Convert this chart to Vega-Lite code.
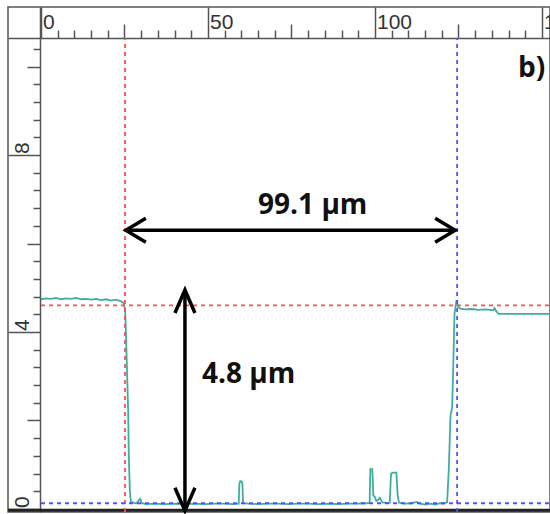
{
  "$schema": "https://vega.github.io/schema/vega-lite/v6.json",
  "width": 542,
  "height": 505,
  "autosize": {"type": "none"},
  "padding": {"left": 8, "top": 7, "right": 0, "bottom": 2},
  "background": "white",
  "config": {
    "view": {"stroke": "#555", "strokeWidth": 1.5},
    "axis": {"grid": false, "title": null, "labelOverlap": false, "labelFlush": false, "labelBound": false,
             "domainColor": "#555", "domainWidth": 1.5, "tickColor": "#555", "tickWidth": 1.5,
             "labelFont": "Liberation Sans Narrow, Liberation Sans, sans-serif", "labelFontSize": 21, "labelColor": "#333"}
  },
  "datasets": {
    "profile": [
      {"x": 0, "y": 4.74}, {"x": 1.5, "y": 4.76}, {"x": 3, "y": 4.75}, {"x": 4.5, "y": 4.77}, {"x": 6, "y": 4.74},
      {"x": 7.5, "y": 4.76}, {"x": 9, "y": 4.75}, {"x": 10.5, "y": 4.77}, {"x": 12, "y": 4.74}, {"x": 13.5, "y": 4.75},
      {"x": 15, "y": 4.73}, {"x": 16.5, "y": 4.75}, {"x": 18, "y": 4.72}, {"x": 19.5, "y": 4.74}, {"x": 21, "y": 4.71},
      {"x": 22.5, "y": 4.73}, {"x": 23.8, "y": 4.70}, {"x": 24.7, "y": 4.66}, {"x": 25.2, "y": 4.5}, {"x": 25.5, "y": 3.8},
      {"x": 25.8, "y": 3.0}, {"x": 26.1, "y": 2.2}, {"x": 26.3, "y": 1.2}, {"x": 26.6, "y": 0.4}, {"x": 26.9, "y": 0.16},
      {"x": 27.8, "y": 0.14}, {"x": 28.6, "y": 0.13}, {"x": 29.2, "y": 0.19}, {"x": 29.7, "y": 0.23}, {"x": 30.2, "y": 0.13},
      {"x": 31.5, "y": 0.11}, {"x": 34, "y": 0.12}, {"x": 37, "y": 0.11}, {"x": 40, "y": 0.12}, {"x": 43, "y": 0.11},
      {"x": 46, "y": 0.12}, {"x": 49, "y": 0.11}, {"x": 52, "y": 0.12}, {"x": 55, "y": 0.12}, {"x": 57.5, "y": 0.11},
      {"x": 59.2, "y": 0.12}, {"x": 59.4, "y": 0.58}, {"x": 59.7, "y": 0.63}, {"x": 60.1, "y": 0.62}, {"x": 60.3, "y": 0.56},
      {"x": 60.5, "y": 0.13}, {"x": 62, "y": 0.12}, {"x": 65, "y": 0.11}, {"x": 68, "y": 0.12}, {"x": 71, "y": 0.12},
      {"x": 74, "y": 0.11}, {"x": 77, "y": 0.12}, {"x": 80, "y": 0.12}, {"x": 83, "y": 0.11}, {"x": 86, "y": 0.12},
      {"x": 89, "y": 0.11}, {"x": 92, "y": 0.12}, {"x": 95, "y": 0.12}, {"x": 97.5, "y": 0.13}, {"x": 98.4, "y": 0.14},
      {"x": 98.6, "y": 0.9}, {"x": 99.2, "y": 0.9}, {"x": 99.5, "y": 0.3}, {"x": 99.9, "y": 0.28}, {"x": 100.4, "y": 0.18},
      {"x": 100.9, "y": 0.2}, {"x": 101.5, "y": 0.25}, {"x": 102.2, "y": 0.15}, {"x": 103.5, "y": 0.14}, {"x": 104.4, "y": 0.14},
      {"x": 104.8, "y": 0.8}, {"x": 105.4, "y": 0.82}, {"x": 106.4, "y": 0.82}, {"x": 106.8, "y": 0.3}, {"x": 107.2, "y": 0.14},
      {"x": 109, "y": 0.12}, {"x": 111, "y": 0.13}, {"x": 112.5, "y": 0.16}, {"x": 113.5, "y": 0.12}, {"x": 115, "y": 0.1},
      {"x": 116.5, "y": 0.12}, {"x": 118, "y": 0.1}, {"x": 119.5, "y": 0.13}, {"x": 120.5, "y": 0.12}, {"x": 121.6, "y": 0.15},
      {"x": 122.1, "y": 0.9}, {"x": 122.6, "y": 2.1}, {"x": 123.1, "y": 2.3}, {"x": 123.4, "y": 3.1}, {"x": 123.8, "y": 4.4},
      {"x": 124.4, "y": 4.72}, {"x": 124.9, "y": 4.57}, {"x": 125.5, "y": 4.53}, {"x": 127, "y": 4.51}, {"x": 129, "y": 4.52},
      {"x": 131, "y": 4.5}, {"x": 133, "y": 4.51}, {"x": 134.5, "y": 4.5}, {"x": 135.4, "y": 4.49}, {"x": 135.8, "y": 4.54},
      {"x": 136.3, "y": 4.47}, {"x": 137, "y": 4.41}, {"x": 140, "y": 4.41}, {"x": 144, "y": 4.41}, {"x": 148, "y": 4.41},
      {"x": 152.4, "y": 4.41}
    ],
    "guides": [
      {"kind": "start", "x": 25.15, "x2": 25.15, "y": -0.068, "y2": 10.64},
      {"kind": "end", "x": 124.6, "x2": 124.6, "y": -0.068, "y2": 10.64},
      {"kind": "start", "x": 0, "x2": 152.4, "y": 4.6, "y2": 4.6},
      {"kind": "end", "x": 0, "x2": 152.4, "y": 0.13, "y2": 0.13}
    ],
    "frame": [
      {"x": -9.88, "x2": 152.4, "y": -0.03, "y2": -0.03}
    ],
    "shafts": [
      {"x": 25.6, "x2": 123.8, "y": 6.3, "y2": 6.3},
      {"x": 43.1, "x2": 43.1, "y": 0.0, "y2": 4.9}
    ],
    "heads": [
      {"dir": "left", "x": 25.4, "y": 6.3},
      {"dir": "right", "x": 124.0, "y": 6.3},
      {"dir": "up", "x": 43.1, "y": 4.95},
      {"dir": "down", "x": 43.1, "y": -0.04}
    ],
    "labels": [
      {"text": "99.1 µm", "x": 65.0, "y": 6.67},
      {"text": "4.8 µm", "x": 48.2, "y": 2.85},
      {"text": "b)", "x": 142.8, "y": 9.76}
    ]
  },
  "encoding": {
    "x": {
      "field": "x", "type": "quantitative",
      "scale": {"domain": [-9.88, 152.4], "nice": false, "zero": false},
      "axis": {
        "orient": "top", "offset": -31,
        "values": [0, 5, 10, 15, 20, 25, 30, 35, 40, 45, 50, 55, 60, 65, 70, 75, 80, 85, 90, 95, 100, 105, 110, 115, 120, 125, 130, 135, 140, 145, 150],
        "tickSize": {"condition": [{"test": "datum.value % 50 === 0", "value": 31}, {"test": "datum.value % 25 === 0", "value": 14}], "value": 8},
        "labelExpr": "datum.value % 50 === 0 ? datum.label : ''",
        "labelAlign": "left", "labelBaseline": "alphabetic", "labelPadding": -21.5, "labelOffset": 1.5
      }
    },
    "y": {
      "field": "y", "type": "quantitative",
      "scale": {"domain": [-0.068, 11.345], "nice": false, "zero": false},
      "axis": {
        "orient": "left", "offset": -32,
        "values": [0, 0.4, 0.8, 1.2, 1.6, 2, 2.4, 2.8, 3.2, 3.6, 4, 4.4, 4.8, 5.2, 5.6, 6, 6.4, 6.8, 7.2, 7.6, 8, 8.4, 8.8, 9.2, 9.6, 10, 10.4],
        "tickSize": {"condition": [{"test": "abs(datum.value / 4 - round(datum.value / 4)) < 0.01", "value": 32}, {"test": "abs(datum.value / 2 - round(datum.value / 2)) < 0.01", "value": 13}], "value": 7},
        "labelExpr": "abs(datum.value / 4 - round(datum.value / 4)) < 0.01 ? format(datum.value, 'd') : ''",
        "labelAngle": -90, "labelAlign": "left", "labelBaseline": "alphabetic", "labelPadding": -20, "labelOffset": -1.5
      }
    }
  },
  "layer": [
    {
      "data": {"name": "frame"},
      "mark": {"type": "rule", "color": "#222", "strokeWidth": 3},
      "encoding": {"x2": {"field": "x2"}, "y2": {"field": "y2"}}
    },
    {
      "data": {"name": "profile"},
      "mark": {"type": "line", "color": "#3fae9f", "strokeWidth": 1.8},
      "encoding": {}
    },
    {
      "data": {"name": "guides"},
      "mark": {"type": "rule", "strokeWidth": 1.8, "strokeDash": [4, 4]},
      "encoding": {
        "x2": {"field": "x2"}, "y2": {"field": "y2"},
        "color": {"field": "kind", "type": "nominal", "scale": {"domain": ["start", "end"], "range": ["#ff5050", "#5050ff"]}, "legend": null}
      }
    },
    {
      "data": {"name": "shafts"},
      "mark": {"type": "rule", "color": "black", "strokeWidth": 3.5},
      "encoding": {"x2": {"field": "x2"}, "y2": {"field": "y2"}}
    },
    {
      "data": {"name": "heads"},
      "transform": [{"filter": "datum.dir === 'left'"}],
      "mark": {"type": "point", "shape": "M1,-0.6L0,0L1,0.6", "size": 1600, "filled": false, "stroke": "black", "strokeWidth": 3.5, "opacity": 1, "strokeJoin": "miter"}
    },
    {
      "data": {"name": "heads"},
      "transform": [{"filter": "datum.dir === 'right'"}],
      "mark": {"type": "point", "shape": "M-1,-0.6L0,0L-1,0.6", "size": 1600, "filled": false, "stroke": "black", "strokeWidth": 3.5, "opacity": 1, "strokeJoin": "miter"}
    },
    {
      "data": {"name": "heads"},
      "transform": [{"filter": "datum.dir === 'up'"}],
      "mark": {"type": "point", "shape": "M-0.5,1.15L0,0L0.5,1.15", "size": 1600, "filled": false, "stroke": "black", "strokeWidth": 3.5, "opacity": 1, "strokeJoin": "miter"}
    },
    {
      "data": {"name": "heads"},
      "transform": [{"filter": "datum.dir === 'down'"}],
      "mark": {"type": "point", "shape": "M-0.5,-1.15L0,0L0.5,-1.15", "size": 1600, "filled": false, "stroke": "black", "strokeWidth": 3.5, "opacity": 1, "strokeJoin": "miter"}
    },
    {
      "data": {"name": "labels"},
      "mark": {"type": "text", "align": "left", "baseline": "alphabetic", "font": "Open Sans", "fontWeight": "bold", "fontSize": 28, "color": "#111"},
      "encoding": {"text": {"field": "text"}}
    }
  ]
}
